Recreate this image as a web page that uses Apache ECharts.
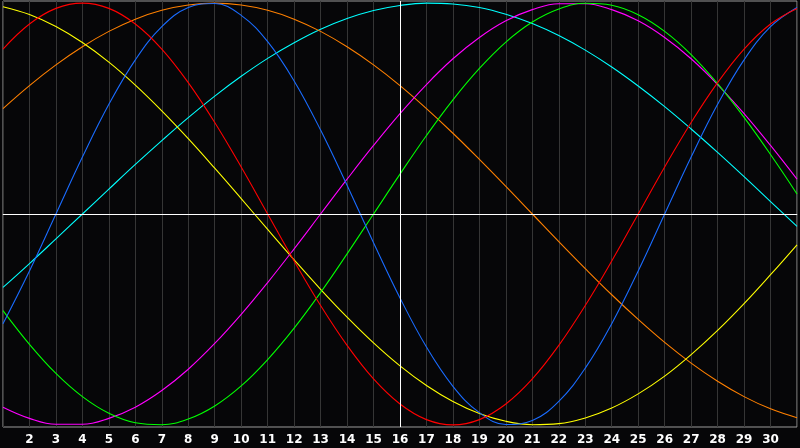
<!DOCTYPE html>
<html>
<head>
<meta charset="utf-8">
<script src="https://cdn.jsdelivr.net/npm/echarts@6/dist/echarts.min.js"></script>
<style>
  html, body { margin: 0; padding: 0; background: #060608; }
  #chart { width: 800px; height: 448px; }
</style>
</head>
<body>
<div id="chart"></div>
<script>
// days of the month
var days = [];
for (var i = 1; i <= 31; i++) days.push(i);

// cycle values, one per day
var blue = [-0.52, -0.27, 0, 0.27, 0.52, 0.731, 0.888, 0.979, 0.998, 0.942, 0.817, 0.631, 0.398, 0.136, -0.136, -0.398,
  -0.631, -0.817, -0.942, -0.998, -0.979, -0.888, -0.731, -0.52, -0.27, 0, 0.27, 0.52, 0.731, 0.888, 0.979];
var red = [0.782, 0.901, 0.975, 1, 0.975, 0.901, 0.782, 0.623, 0.434, 0.223, 0, -0.223, -0.434, -0.623, -0.782, -0.901,
  -0.975, -1, -0.975, -0.901, -0.782, -0.623, -0.434, -0.223, 0, 0.223, 0.434, 0.623, 0.782, 0.901, 0.975];
var green = [-0.458, -0.618, -0.756, -0.866, -0.945, -0.99, -0.999, -0.972, -0.91, -0.815, -0.69, -0.541, -0.372, -0.189, 0, 0.189,
  0.372, 0.541, 0.69, 0.815, 0.91, 0.972, 0.999, 0.99, 0.945, 0.866, 0.756, 0.618, 0.458, 0.282, 0.095];
var magenta = [-0.916, -0.969, -0.997, -0.997, -0.969, -0.916, -0.837, -0.736, -0.614, -0.476, -0.325, -0.165, 0, 0.165, 0.325, 0.476,
  0.614, 0.736, 0.837, 0.916, 0.969, 0.997, 0.997, 0.969, 0.916, 0.837, 0.736, 0.614, 0.476, 0.325, 0.165];
var yellow = [0.983, 0.946, 0.889, 0.813, 0.72, 0.611, 0.489, 0.357, 0.217, 0.073, -0.073, -0.217, -0.357, -0.489, -0.611, -0.72,
  -0.813, -0.889, -0.946, -0.983, -0.999, -0.994, -0.967, -0.92, -0.853, -0.769, -0.667, -0.552, -0.425, -0.288, -0.146];
var orange = [0.5, 0.609, 0.707, 0.793, 0.866, 0.924, 0.966, 0.991, 1, 0.991, 0.966, 0.924, 0.866, 0.793, 0.707, 0.609,
  0.5, 0.383, 0.259, 0.131, 0, -0.131, -0.259, -0.383, -0.5, -0.609, -0.707, -0.793, -0.866, -0.924, -0.966];
var cyan = [-0.348, -0.235, -0.118, 0, 0.118, 0.235, 0.348, 0.457, 0.559, 0.653, 0.738, 0.812, 0.876, 0.927, 0.965, 0.989,
  1, 0.996, 0.979, 0.947, 0.903, 0.846, 0.777, 0.697, 0.607, 0.509, 0.403, 0.292, 0.177, 0.059, -0.059];

var today = 16;

function pairs(arr) {
  return days.map(function (d, i) { return [d, arr[i]]; });
}

function line(name, arr, color) {
  return {
    name: name,
    type: 'line',
    data: pairs(arr),
    smooth: 0.4,
    showSymbol: false,
    lineStyle: { color: color, width: 1.1 },
    itemStyle: { color: color },
    z: 3
  };
}

var chart = echarts.init(document.getElementById('chart'));
var series = [
  line('cyan', cyan, '#00ffff'),
  line('orange', orange, '#ff8000'),
  line('yellow', yellow, '#ffff00'),
  line('magenta', magenta, '#ff00ff'),
  line('green', green, '#00ff00'),
  line('blue', blue, '#1a6cff'),
  line('red', red, '#ff0000')
];
// white cross: today + zero line
series.push({
  type: 'line',
  data: [],
  silent: true,
  z: 2,
  markLine: {
    silent: true,
    symbol: 'none',
    label: { show: false },
    lineStyle: { color: '#ffffff', width: 1, type: 'solid' },
    data: [{ yAxis: 0 }, { xAxis: today }]
  }
});

chart.setOption({
  animation: false,
  backgroundColor: '#060608',
  grid: {
    left: 0, right: -1, top: 1, bottom: 21,
    show: true,
    backgroundColor: '#060608',
    borderColor: '#9a9a9a',
    borderWidth: 1
  },
  xAxis: {
    type: 'value',
    min: 1,
    max: 31,
    interval: 1,
    axisLine: { show: true, lineStyle: { color: '#9a9a9a', width: 1 } },
    axisTick: { show: false },
    splitLine: { show: true, lineStyle: { color: '#353535', width: 1 } },
    axisLabel: {
      color: '#ffffff',
      fontFamily: 'DejaVu Sans',
      fontWeight: 'bold',
      fontSize: 12,
      margin: 7,
      formatter: function (v) { return (v === 1 || v === 31) ? '' : String(v); }
    }
  },
  yAxis: {
    type: 'value',
    min: -1.01,
    max: 1.01,
    show: false,
    splitLine: { show: false }
  },
  series: series
});
</script>
</body>
</html>
